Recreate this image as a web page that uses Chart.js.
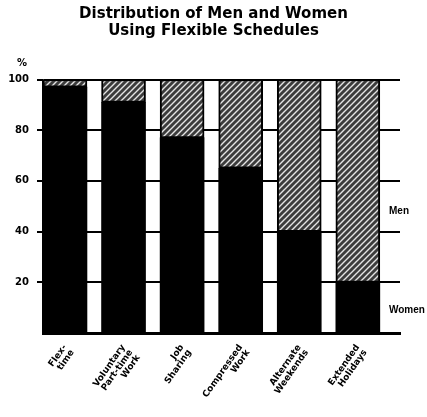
<!DOCTYPE html>
<html>
<head>
<meta charset="utf-8">
<script src="https://cdn.jsdelivr.net/npm/chart.js@4"></script>
<style>
html,body{margin:0;padding:0;background:#fff;}
#wrap{width:427px;height:417px;}
</style>
</head>
<body>
<div id="wrap"><canvas id="c" width="427" height="417"></canvas></div>
<script>
const titleLines = ["Distribution of Men and Women", "Using Flexible Schedules"];
const categories = [
  ["Flex-", "time"],
  ["Voluntary", "Part-time", "Work"],
  ["Job", "Sharing"],
  ["Compressed", "Work"],
  ["Alternate", "Weekends"],
  ["Extended", "Holidays"]
];
const womenPct = [97, 91, 77, 65, 40, 20];
const menPct = [3, 9, 23, 35, 60, 80];
const yTicks = [0, 20, 40, 60, 80, 100];

function makeHatch() {
  const c = document.createElement('canvas');
  c.width = 6; c.height = 6;
  const g = c.getContext('2d');
  g.fillStyle = '#3c3c3c';
  g.fillRect(0, 0, 6, 6);
  g.strokeStyle = '#e4e4e4';
  g.lineWidth = 1.4;
  g.beginPath();
  g.moveTo(0, 6); g.lineTo(6, 0);
  g.moveTo(-3, 3); g.lineTo(3, -3);
  g.moveTo(3, 9); g.lineTo(9, 3);
  g.stroke();
  return g.createPattern(c, 'repeat');
}

const sideLabels = {
  id: 'sideLabels',
  afterDraw(chart) {
    const {ctx, scales} = chart;
    const y = scales.y;
    ctx.save();
    ctx.fillStyle = '#000';
    ctx.font = 'bold 10px "Liberation Sans"';
    ctx.textBaseline = 'middle';
    ctx.textAlign = 'left';
    ctx.fillText('Men', 389, y.getPixelForValue(48));
    ctx.fillText('Women', 389, y.getPixelForValue(9));
    ctx.textAlign = 'center';
    ctx.font = 'bold 10px "DejaVu Sans"';
    ctx.fillText('%', 22, 63);
    ctx.restore();
  }
};

const hatch = makeHatch();

new Chart(document.getElementById('c'), {
  type: 'bar',
  data: {
    datasets: [
      {
        label: 'Women',
        data: womenPct.map((v, i) => ({x: i, y: v})),
        backgroundColor: '#000',
        borderColor: '#000',
        borderWidth: 0,
        barThickness: 44
      },
      {
        label: 'Men',
        data: menPct.map((v, i) => ({x: i, y: v})),
        backgroundColor: hatch,
        borderColor: '#000',
        borderWidth: 2,
        borderSkipped: false,
        barThickness: 44
      }
    ]
  },
  options: {
    responsive: false,
    animation: false,
    layout: {padding: {left: 0, right: 0, top: 0, bottom: 0}},
    plugins: {
      legend: {display: false},
      tooltip: {enabled: false},
      title: {
        display: true,
        text: titleLines,
        color: '#000',
        font: {family: '"DejaVu Sans"', size: 15, weight: 'bold', lineHeight: 1.15},
        padding: {top: 5, bottom: 40}
      }
    },
    scales: {
      x: {
        type: 'linear',
        stacked: true,
        offset: false,
        min: -0.375,
        max: 5.72,
        afterBuildTicks: (s) => { s.ticks = categories.map((_, i) => ({value: i})); },
        afterFit: (s) => { s.height = 84; },
        grid: {display: false, offset: false},
        border: {display: true, color: '#000', width: 3},
        ticks: {
          autoSkip: false,
          minRotation: 55,
          maxRotation: 55,
          color: '#000',
          font: {family: '"DejaVu Sans"', size: 9, weight: 'bold', lineHeight: 1.0},
          padding: 2,
          callback: (v) => categories[Math.round(v)] || ''
        }
      },
      y: {
        stacked: true,
        min: 0,
        max: 100,
        afterBuildTicks: (s) => { s.ticks = yTicks.map(v => ({value: v})); },
        afterFit: (s) => { s.width = 43; },
        border: {display: true, color: '#000', width: 1.5},
        grid: {
          color: '#000',
          lineWidth: (c) => (c.tick && c.tick.value === 0) ? 0 : 2,
          tickLength: 6,
          drawTicks: true
        },
        ticks: {
          color: '#000',
          padding: 8,
          font: {family: '"DejaVu Sans"', size: 10, weight: 'bold'},
          callback: (v) => v === 0 ? '' : String(v)
        }
      },
      yRight: {
        position: 'right',
        display: true,
        min: 0,
        max: 100,
        afterFit: (s) => { s.width = 27; },
        grid: {display: false, drawOnChartArea: false},
        border: {display: false},
        ticks: {display: false}
      }
    }
  },
  plugins: [sideLabels]
});
</script>
</body>
</html>
